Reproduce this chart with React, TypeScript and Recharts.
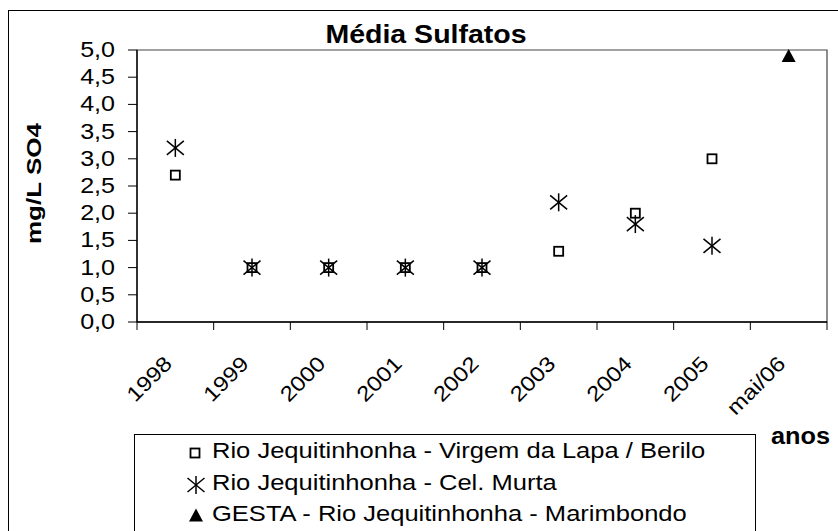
import React from "react";
import { ComposedChart, Scatter, XAxis, YAxis, ReferenceArea, Legend } from "recharts";

const CATEGORIES = ["1998", "1999", "2000", "2001", "2002", "2003", "2004", "2005", "mai/06"];
const BERILO = [2.7, 1.0, 1.0, 1.0, 1.0, 1.3, 2.0, 3.0, null];
const MURTA = [3.2, 1.0, 1.0, 1.0, 1.0, 2.2, 1.8, 1.4, null];
const GESTA = [null, null, null, null, null, null, null, null, 4.9];
const Y_TICKS = [0, 0.5, 1, 1.5, 2, 2.5, 3, 3.5, 4, 4.5, 5];
const SERIES_NAMES = [
  "Rio Jequitinhonha - Virgem da Lapa / Berilo",
  "Rio Jequitinhonha - Cel. Murta",
  "GESTA - Rio Jequitinhonha - Marimbondo",
];

const FONT = '"Liberation Sans", Arial, sans-serif';
const W = 829;
const H = 520;
const M = { top: 39, right: 11, bottom: 149, left: 68 };
const Y_W = 60;
const X_H = 60;
const PLOT_W = W - M.left - Y_W - M.right;
const PLOT_H = H - M.top - M.bottom - X_H;
const AXIS_Y = M.top + PLOT_H;
const BAND = PLOT_W / CATEGORIES.length;

const rows = CATEGORIES.map((year, i) => ({
  year,
  berilo: BERILO[i],
  murta: MURTA[i],
  gesta: GESTA[i],
}));

const fmt = (v: number) => v.toFixed(1).replace(".", ",");

function Square({ cx, cy }: { cx: number; cy: number }) {
  return <rect x={cx - 4.5} y={cy - 4.5} width={9} height={9} fill="none" stroke="#000" strokeWidth={1.8} />;
}

function Star({ cx, cy }: { cx: number; cy: number }) {
  return (
    <g stroke="#000" strokeWidth={1.5}>
      <line x1={cx - 8.5} y1={cy - 7} x2={cx + 8.5} y2={cy + 7} />
      <line x1={cx - 8.5} y1={cy + 7} x2={cx + 8.5} y2={cy - 7} />
      <line x1={cx} y1={cy - 9} x2={cx} y2={cy + 9} />
    </g>
  );
}

function Triangle({ cx, cy }: { cx: number; cy: number }) {
  return <polygon points={`${cx},${cy - 6.5} ${cx + 7},${cy + 6.5} ${cx - 7},${cy + 6.5}`} fill="#000" />;
}

const SHAPES = [Square, Star, Triangle];
const KEYS = ["berilo", "murta", "gesta"];

function makeShape(key: string, Shape: any) {
  return (p: any) => {
    if (p.payload == null || p.payload[key] == null || !Number.isFinite(p.cy)) return <g />;
    return <Shape cx={p.cx} cy={p.cy} />;
  };
}

function YTick({ y, payload }: any) {
  return (
    <g transform={`translate(${M.left + Y_W - 22}, ${y}) scale(1.14,1)`}>
      <text textAnchor="end" dy={7} fontSize={22} fill="#000" fontFamily={FONT}>
        {fmt(payload.value)}
      </text>
    </g>
  );
}

function XTick({ payload }: any) {
  const x = payload.coordinate;
  const isLast = payload.value === CATEGORIES[CATEGORIES.length - 1];
  return (
    <g>
      <line x1={x - BAND / 2} x2={x - BAND / 2} y1={AXIS_Y} y2={AXIS_Y + 8} stroke="#000" />
      {isLast && <line x1={x + BAND / 2} x2={x + BAND / 2} y1={AXIS_Y} y2={AXIS_Y + 8} stroke="#000" />}
      <g transform={`translate(${x - 2}, ${AXIS_Y + 43}) rotate(-45) scale(1.15,1)`}>
        <text textAnchor="end" fontSize={21} fill="#000" fontFamily={FONT}>
          {payload.value}
        </text>
      </g>
    </g>
  );
}

const MARKER_POS = [
  { x: 60.3, y: 17.5 },
  { x: 60.5, y: 50 },
  { x: 61, y: 80 },
];
const TEXT_TOPS = [5.4, 37.4, 68.4];

function LegendBox() {
  return (
    <div
      style={{
        position: "relative",
        width: 622,
        height: 110,
        boxSizing: "border-box",
        border: "1px solid #000",
        background: "#fff",
        fontFamily: FONT,
      }}
    >
      {SERIES_NAMES.map((name, i) => {
        const Shape = SHAPES[i];
        return (
          <React.Fragment key={name}>
            <svg
              width={20}
              height={20}
              style={{ position: "absolute", left: MARKER_POS[i].x - 10, top: MARKER_POS[i].y - 10 }}
            >
              <Shape cx={10} cy={10} />
            </svg>
            <div
              style={{
                position: "absolute",
                left: 77,
                top: TEXT_TOPS[i],
                fontSize: 22,
                lineHeight: "22px",
                whiteSpace: "nowrap",
                color: "#000",
                transform: "scaleX(1.16)",
                transformOrigin: "left center",
              }}
            >
              {name}
            </div>
          </React.Fragment>
        );
      })}
    </div>
  );
}

export default function App() {
  return (
    <div
      style={{
        position: "absolute",
        left: 8,
        top: 10,
        width: 830,
        height: 521,
        boxSizing: "border-box",
        borderTop: "1px solid #000",
        borderLeft: "1px solid #000",
        overflow: "hidden",
        background: "#fff",
        fontFamily: FONT,
      }}
    >
      <ComposedChart width={W} height={H} data={rows} margin={M}>
        <XAxis
          dataKey="year"
          type="category"
          scale="band"
          height={X_H}
          interval={0}
          tickLine={false}
          axisLine={{ stroke: "#000", strokeWidth: 1.3 }}
          tick={<XTick />}
        />
        <YAxis
          type="number"
          domain={[0, 5]}
          ticks={Y_TICKS}
          width={Y_W}
          interval={0}
          tickSize={9}
          tickLine={{ stroke: "#000" }}
          axisLine={{ stroke: "#000", strokeWidth: 1.3 }}
          tick={<YTick />}
        />
        <ReferenceArea y1={0} y2={5} fill="none" stroke="#444" strokeWidth={1.2} ifOverflow="visible" />
        {KEYS.map((k, i) => (
          <Scatter key={k} name={SERIES_NAMES[i]} dataKey={k} isAnimationActive={false} shape={makeShape(k, SHAPES[i])} />
        ))}
        <Legend
          layout="horizontal"
          verticalAlign="middle"
          align="center"
          wrapperStyle={{ left: 125, top: 423, width: 622, height: 110 }}
          content={() => <LegendBox />}
        />
      </ComposedChart>
      <div
        style={{
          position: "absolute",
          left: 217,
          top: 11,
          width: 400,
          textAlign: "center",
          fontSize: 25,
          lineHeight: "25px",
          fontWeight: "bold",
          color: "#000",
          transform: "scaleX(1.14)",
        }}
      >
        Média Sulfatos
      </div>
      <div
        style={{
          position: "absolute",
          left: -46,
          top: 161.5,
          width: 140,
          height: 21,
          textAlign: "center",
          fontSize: 21,
          lineHeight: "21px",
          fontWeight: "bold",
          color: "#000",
          whiteSpace: "nowrap",
          transform: "rotate(-90deg) scaleX(1.24)",
        }}
      >
        mg/L SO4
      </div>
      <div
        style={{
          position: "absolute",
          left: 762,
          top: 414,
          fontSize: 23,
          lineHeight: "23px",
          fontWeight: "bold",
          color: "#000",
          whiteSpace: "nowrap",
          transform: "scaleX(1.1)",
          transformOrigin: "left center",
        }}
      >
        anos
      </div>
    </div>
  );
}
